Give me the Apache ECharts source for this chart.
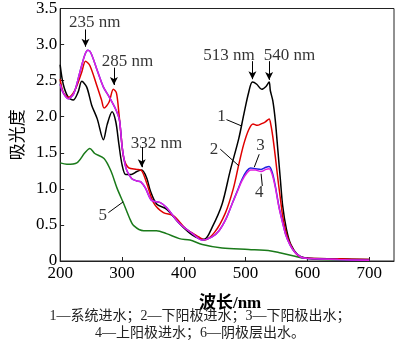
<!DOCTYPE html>
<html><head><meta charset="utf-8">
<script src="https://cdn.jsdelivr.net/npm/echarts@6/dist/echarts.min.js"></script>
<style>html,body{margin:0;padding:0;background:#fff}#c{width:400px;height:354px}</style>
</head><body><div id="c"></div>
<script>
// wavelength (nm) / absorbance pairs
const curve1 = [[200,2.72],[205,2.45],[213,2.27],[221,2.23],[229,2.34],[235,2.49],[243,2.41],[251,2.16],[260,1.97],[270,1.68],[276,1.89],[284,2.07],[290,1.93],[295,1.62],[300,1.34],[306,1.2],[315,1.2],[324,1.24],[332,1.26],[340,1.15],[346,0.97],[356,0.79],[372,0.72],[393,0.52],[414,0.36],[433,0.3],[446,0.47],[462,0.79],[475,1.25],[489,1.7],[497,2.03],[505,2.34],[511,2.48],[518,2.45],[526,2.38],[533,2.42],[538,2.48],[540,2.36],[544,2.22],[548,1.95],[552,1.55],[556,1.15],[560,0.76],[566,0.44],[573,0.23],[584,0.09],[597,0.04],[650,0.03],[700,0.02]];
const curve2 = [[200,2.52],[205,2.34],[213,2.27],[224,2.37],[235,2.62],[241,2.77],[248,2.71],[259,2.44],[267,2.23],[271,2.12],[279,2.2],[286,2.38],[291,2.33],[295,2.05],[299,1.7],[303,1.42],[311,1.29],[324,1.27],[332,1.25],[340,1.08],[351,0.81],[367,0.67],[383,0.63],[403,0.45],[425,0.33],[433,0.29],[450,0.4],[467,0.66],[480,1.0],[489,1.34],[497,1.62],[505,1.82],[512,1.9],[519,1.88],[525,1.9],[532,1.93],[538,1.97],[541,1.88],[544,1.72],[548,1.45],[552,1.15],[556,0.88],[560,0.62],[566,0.38],[573,0.22],[584,0.08],[596,0.04],[650,0.03],[700,0.02]];
const curve3 = [[200,2.45],[205,2.33],[213,2.25],[222,2.32],[232,2.62],[240,2.86],[245,2.92],[250,2.88],[260,2.64],[270,2.41],[279,2.28],[290,2.1],[296,1.95],[300,1.6],[304,1.38],[308,1.25],[316,1.14],[324,1.11],[330,1.1],[338,1.01],[348,0.84],[362,0.81],[372,0.74],[393,0.52],[414,0.38],[430,0.29],[445,0.33],[457,0.42],[468,0.58],[478,0.79],[487,0.98],[494,1.13],[502,1.25],[508,1.29],[516,1.28],[525,1.27],[533,1.3],[538,1.31],[543,1.23],[548,1.04],[554,0.75],[560,0.53],[565,0.36],[572,0.22],[580,0.12],[594,0.04],[650,0.02],[700,0.01]];
const curve4 = [[200,2.45],[205,2.33],[213,2.25],[222,2.32],[232,2.62],[240,2.86],[245,2.92],[250,2.88],[260,2.64],[270,2.41],[279,2.28],[290,2.1],[296,1.95],[300,1.6],[304,1.38],[308,1.25],[316,1.14],[324,1.11],[330,1.1],[338,1.01],[348,0.84],[362,0.81],[372,0.74],[393,0.52],[414,0.38],[430,0.29],[445,0.33],[457,0.42],[468,0.58],[478,0.79],[487,0.97],[494,1.11],[502,1.22],[508,1.26],[516,1.26],[525,1.24],[533,1.27],[538,1.28],[543,1.2],[548,1.02],[554,0.74],[560,0.52],[565,0.36],[572,0.22],[580,0.12],[594,0.04],[650,0.02],[700,0.01]];
const curve5 = [[200,1.36],[211,1.34],[227,1.36],[240,1.5],[248,1.56],[256,1.49],[271,1.42],[282,1.25],[292,1.01],[303,0.79],[312,0.6],[319,0.49],[335,0.42],[356,0.42],[372,0.38],[393,0.31],[410,0.29],[430,0.23],[462,0.18],[505,0.16],[541,0.14],[557,0.11],[578,0.07],[594,0.04],[620,0.02],[700,0.01]];

// peak annotations: [text x, text y, label] and arrows [x, top, bottom] (data units)
const peakLabels = [[256,3.31,'235 nm'],[309,2.77,'285 nm'],[356,1.63,'332 nm'],[473,2.85,'513 nm'],[571,2.85,'540 nm']];
const peakArrows = [[241,3.21,2.97],[287,2.68,2.44],[332,1.58,1.30],[511,2.77,2.52],[538,2.77,2.51]];
// curve number labels and leader lines (data units)
const numLabels = [[461,2.0,'1'],[449,1.55,'2'],[524,1.6,'3'],[522,0.95,'4'],[269,0.63,'5']];
const leaders = [[[469,1.96],[494,1.87]],[[459,1.55],[489,1.32]],[[522,1.48],[514,1.30]],[[525,1.21],[527,1.04]],[[278,0.67],[302,0.82]]];

const xTicks = [200,300,400,500,600,700];
const yTicks = ['0','0.5','1.0','1.5','2.0','2.5','3.0','3.5'];
const xTitle = '波长/nm';
const yTitle = '吸光度';
const caption1 = '1—系统进水；2—下阳极进水；3—下阳极出水；';
const caption2 = '4—上阳极进水；6—阴极层出水。';

const serif = '"Liberation Serif","Times New Roman",serif';
const chart = echarts.init(document.getElementById('c'), null, {renderer:'canvas'});

function lineSeries(data, color, z){
  return {type:'line', data:data, showSymbol:false, symbol:'none', smooth:0.3, z:z,
    lineStyle:{color:color, width:1.5}, silent:true, animation:false};
}
const arrowLines = peakArrows.map(a=>[{coord:[a[0],a[1]]},{coord:[a[0],a[2]]}]);
const leaderLines = leaders.map(l=>[{coord:l[0]},{coord:l[1]}]);

chart.setOption({
  animation:false,
  grid:{left:55, right:6, top:5, bottom:93, show:true, borderColor:'#222', borderWidth:1, backgroundColor:'transparent'},
  xAxis:{type:'value', min:200, max:740, interval:100,
    axisLine:{show:true, lineStyle:{color:'#222', width:1}},
    axisTick:{show:true, inside:true, length:4, lineStyle:{color:'#222'}},
    axisLabel:{color:'#000', fontFamily:serif, fontSize:17, margin:4, showMaxLabel:false,
      formatter:v=> xTicks.indexOf(v)>=0 ? String(v) : ''},
    splitLine:{show:false},
    name:xTitle, nameLocation:'middle', nameGap:34,
    nameTextStyle:{color:'#000', fontFamily:'"Liberation Serif","Noto Sans CJK SC",serif', fontSize:17, fontWeight:'bold', padding:[0,0,0,6]}
  },
  yAxis:{type:'value', min:0, max:3.5, interval:0.5,
    axisLine:{show:true, lineStyle:{color:'#222', width:1}},
    axisTick:{show:true, inside:true, length:4, lineStyle:{color:'#222'}},
    axisLabel:{color:'#000', fontFamily:serif, fontSize:17, margin:3,
      formatter:v=> yTicks[Math.round(v/0.5)]},
    splitLine:{show:false},
    name:yTitle, nameLocation:'middle', nameGap:35, nameRotate:90,
    nameTextStyle:{color:'#000', fontFamily:'"Noto Sans CJK SC",sans-serif', fontSize:17}
  },
  series:[
    lineSeries(curve5,'#1a7a1a',2),
    lineSeries(curve1,'#000000',3),
    lineSeries(curve2,'#e00000',4),
    lineSeries(curve3,'#2020e0',5),
    lineSeries(curve4,'#e020e0',6),
    {type:'scatter', data:peakLabels.concat(numLabels).map(p=>[p[0],p[1],p[2]]), symbolSize:0, silent:true, z:10,
      label:{show:true, position:'inside', align:'center', verticalAlign:'middle',
        formatter:p=>p.value[2], color:'#000', fontFamily:serif, fontSize:17},
      markLine:{silent:true, symbol:['none','none'], label:{show:false}, animation:false,
        lineStyle:{color:'#000', width:1, type:'solid'},
        data:leaderLines}
    },
    {type:'line', data:[], silent:true, z:10,
      markLine:{silent:true, symbol:['none','arrow'], symbolSize:[6,8], label:{show:false}, animation:false,
        lineStyle:{color:'#000', width:1, type:'solid'},
        data:arrowLines}
    }
  ],
  graphic:[
    {type:'text', left:'center', top:309, style:{text:caption1, fill:'#222', font:'14px "Liberation Serif","Noto Sans CJK SC",sans-serif'}},
    {type:'text', left:'center', top:326, style:{text:caption2, fill:'#222', font:'14px "Liberation Serif","Noto Sans CJK SC",sans-serif'}}
  ]
});
</script></body></html>
